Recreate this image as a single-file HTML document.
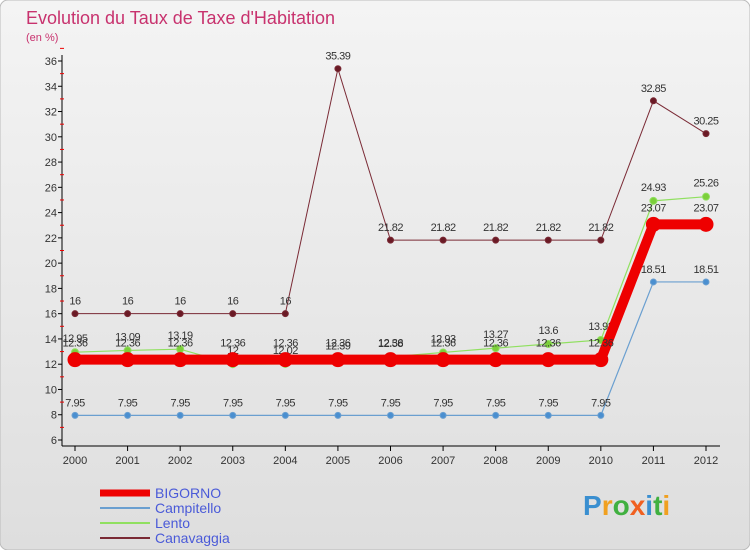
<!DOCTYPE html>
<html><head><meta charset="utf-8"><style>
body{margin:0;width:750px;height:550px;overflow:hidden;font-family:"Liberation Sans",sans-serif}
</style></head><body>
<svg id="c" width="750" height="550" xmlns="http://www.w3.org/2000/svg">
<defs><linearGradient id="bg" x1="0" y1="0" x2="0" y2="1"><stop offset="0" stop-color="#f4f4f4"/><stop offset="1" stop-color="#dedede"/></linearGradient></defs>
<rect x="0" y="0" width="750" height="550" rx="8" fill="url(#bg)" stroke="#bbb"/>
<text x="26" y="24" font-size="18" fill="#c8326e">Evolution du Taux de Taxe d'Habitation</text>
<text x="26" y="41" font-size="11" fill="#c8326e">(en %)</text>
<g id="axes"></g><g id="series"></g><g id="legend"></g>
<text x="583" y="515" font-size="28" font-weight="bold" fill="#3a8fd0"><tspan fill="#3a8fd0">P</tspan><tspan fill="#f0a020">r</tspan><tspan fill="#40b040">o</tspan><tspan fill="#f06020">x</tspan><tspan fill="#3a8fd0">i</tspan><tspan fill="#40b040">t</tspan><tspan fill="#f0a020">i</tspan></text>
</svg>
<script>
const years=[2000,2001,2002,2003,2004,2005,2006,2007,2008,2009,2010,2011,2012];
const yTicks=[6,8,10,12,14,16,18,20,22,24,26,28,30,32,34,36];
const bigorno=[12.36,12.36,12.36,12.36,12.36,12.36,12.36,12.36,12.36,12.36,12.36,23.07,23.07];
const campitello=[7.95,7.95,7.95,7.95,7.95,7.95,7.95,7.95,7.95,7.95,7.95,18.51,18.51];
const lento=[12.95,13.09,13.19,12,12.02,12.39,12.58,12.93,13.27,13.6,13.92,24.93,25.26];
const canavaggia=[16,16,16,16,16,35.39,21.82,21.82,21.82,21.82,21.82,32.85,30.25];
const NS="http://www.w3.org/2000/svg";
const X=i=>75+i*(706-75)/(years.length-1);
const Y=v=>440-(v-6)*(440-61)/30;
function mk(t,a,p){const e=document.createElementNS(NS,t);for(const k in a)e.setAttribute(k,a[k]);p.appendChild(e);return e;}
const ax=document.getElementById('axes');
let e=mk('line',{x1:62,y1:55,x2:62,y2:446,stroke:'#000'},ax);

e=mk('line',{x1:62,y1:446,x2:720,y2:446,stroke:'#000'},ax);

yTicks.forEach(v=>{
 const t=mk('text',{x:57,y:Y(v)+4,'font-size':11,'text-anchor':'end',fill:'#333'},ax);t.textContent=v;
 
 mk('line',{x1:58,y1:Y(v),x2:62,y2:Y(v),stroke:'#000'},ax);
 mk('line',{x1:60,y1:Y(v+1),x2:64,y2:Y(v+1),stroke:'#e00'},ax);
});
years.forEach((y,i)=>{
 const t=mk('text',{x:X(i),y:464,'font-size':11,'text-anchor':'middle',fill:'#333'},ax);t.textContent=y;
 
 mk('line',{x1:X(i),y1:446,x2:X(i),y2:451,stroke:'#000'},ax);
});
const sg=document.getElementById('series');
function series(name,data,color,w,r,fill,lab){
 const g=mk('g',{},sg);
 
 const l=mk('polyline',{points:data.map((v,i)=>X(i)+','+Y(v)).join(' '),fill:'none',stroke:color,'stroke-width':w},g);
 
 data.forEach((v,i)=>{
  const c=mk('circle',{cx:X(i),cy:Y(v),r:r,fill:fill,stroke:color,'stroke-width':1},g);
  
  const t=mk('text',{x:X(i),y:Y(v)-lab,'font-size':11,'text-anchor':'middle',fill:'#333','letter-spacing':'-0.5'},g);t.textContent=v;
  
 });
}
series('canavaggia',canavaggia,'#7a2a35',1,3,'#6a1a25',9);
series('campitello',campitello,'#6a9fd0',1.2,3,'#4a8fd0',9);
series('lento',lento,'#90e060',1.2,3.5,'#7ccf3a',10);
series('bigorno',bigorno,'#ee0000',10,7,'#ee0000',13);
const lg=document.getElementById('legend');
[['BIGORNO','#ee0000',7],['Campitello','#6a9fd0',2],['Lento','#90e060',2],['Canavaggia','#7a2a35',2]].forEach((d,i)=>{
 const yy=493+i*15;
 const ln=mk('line',{x1:100,y1:yy,x2:150,y2:yy,stroke:d[1],'stroke-width':d[2]},lg);
 
 const t=mk('text',{x:155,y:yy+5,'font-size':14,fill:'#4a5ad8'},lg);t.textContent=d[0];
 
});
</script>
</body></html>
